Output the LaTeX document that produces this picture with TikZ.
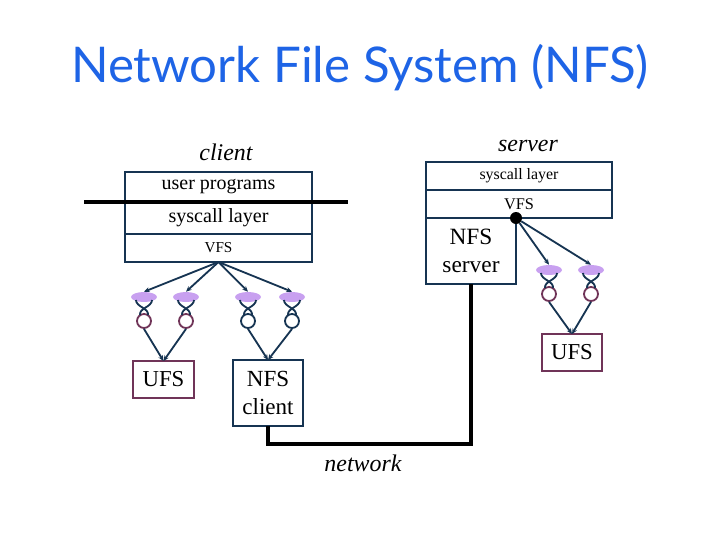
\documentclass[tikz,border=0pt]{standalone}
\usepackage{fontspec}
\setmainfont{Liberation Serif}
\newfontfamily\titlefont{Lato}
\usetikzlibrary{positioning,shapes.geometric,arrows.meta}

\definecolor{boxcol}{RGB}{22,52,82}
\definecolor{ufscol}{RGB}{112,52,88}
\definecolor{lav}{RGB}{200,160,240}
\definecolor{titlecol}{RGB}{30,100,230}

\def \u {0.025cm}

\tikzset{
  layer/.style={draw=boxcol, line width=1.4pt, inner sep=0pt, outer sep=0pt},
  vell/.style={ellipse, fill=lav, minimum width=26*\u, minimum height=10*\u, inner sep=0pt},
  vring/.style={circle, draw, line width=1.3pt, minimum size=14*\u, inner sep=0pt},
  strand/.style={draw=boxcol, line width=1.3pt},
  arr/.style={draw=boxcol, line width=1.3pt, -{Stealth[length=4pt,width=3.5pt]}},
  net/.style={line width=3pt, black},
  side/.style={font=\fontsize{17}{20}\selectfont\itshape}
}

\begin{document}
\begin{tikzpicture}[x=\u, y=-\u]
\useasboundingbox (0,0) rectangle (720,540);

% title
\node[text=titlecol, font=\titlefont\fontsize{35}{40}\selectfont] (title) at (360,68) {Network File System (NFS)};

% client side
\node[side] (clientlbl) at (226,152) {client};
\node[layer, anchor=north west, minimum width=187*\u, minimum height=30*\u,
  font=\fontsize{14.2}{16}\selectfont] (cuser) at (125,172) {user programs};
\node[layer, below=0pt of cuser, minimum width=187*\u, minimum height=32*\u,
  font=\fontsize{14.3}{16}\selectfont] (csys) {syscall layer};
\node[layer, below=0pt of csys, minimum width=187*\u, minimum height=28*\u,
  font=\fontsize{10.8}{12}\selectfont] (cvfs) {VFS};
\draw[line width=3pt] ([xshift=-41*\u]cuser.south west) -- ([xshift=36*\u]cuser.south east);

\node[layer, draw=ufscol, minimum width=61*\u, minimum height=37*\u,
  font=\fontsize{16.2}{19}\selectfont] (cufs) at (163.5,379.5) {UFS};
\node[layer, minimum width=70*\u, minimum height=66*\u, align=center,
  font=\fontsize{16.4}{20}\selectfont] (nfsc) at (268,393) {NFS\\client};

\foreach \n/\x/\col in {1/144/ufscol, 2/186/ufscol, 3/248/boxcol, 4/292/boxcol}
{
  \node[vell] (ce\n) at (\x,297) {};
  \node[vring, draw=\col] (cc\n) at (\x,321) {};
  \draw[strand] ({\x-8},300) .. controls ({\x-8},307) and ({\x+5},308) .. ({\x+4},315);
  \draw[strand] ({\x+8},300) .. controls ({\x+8},307) and ({\x-5},308) .. ({\x-4},315);
  \draw[arr] (cvfs.south) -- (ce\n.north);
}
\foreach \n in {1,2} \draw[arr] (cc\n.south) -- (cufs.north);
\foreach \n in {3,4} \draw[arr] (cc\n.south) -- (nfsc.north);

% server side
\node[side] (serverlbl) at (528,146) {server};
\node[layer, anchor=north west, minimum width=186*\u, minimum height=28*\u,
  font=\fontsize{11.3}{13}\selectfont] (ssys) at (426,162) {syscall layer};
\node[layer, below=0pt of ssys, minimum width=186*\u, minimum height=28*\u,
  font=\fontsize{11.6}{13}\selectfont] (svfs) {VFS};
\node[layer, anchor=north west, minimum width=90*\u, minimum height=66*\u, align=center,
  font=\fontsize{16.6}{20}\selectfont] (nfss) at (svfs.south west) {NFS\\server};
\node[circle, fill=black, minimum size=12*\u, inner sep=0pt] (sdot) at (nfss.north east) {};

\node[layer, draw=ufscol, minimum width=60*\u, minimum height=37*\u,
  font=\fontsize{16.2}{19}\selectfont] (sufs) at (572,352.5) {UFS};

\foreach \n/\x in {1/549, 2/591}
{
  \node[vell] (se\n) at (\x,270) {};
  \node[vring, draw=ufscol] (sc\n) at (\x,294) {};
  \draw[strand] ({\x-8},273) .. controls ({\x-8},280) and ({\x+5},281) .. ({\x+4},288);
  \draw[strand] ({\x+8},273) .. controls ({\x+8},280) and ({\x-5},281) .. ({\x-4},288);
  \draw[arr] (sdot) -- (se\n.north);
  \draw[arr] (sc\n.south) -- (sufs.north);
}

% network
\draw[net] (nfsc.south) -- ++(0,18) -| (nfss.south);
\node[side] (netlbl) at (363,463) {network};
\end{tikzpicture}
\end{document}
